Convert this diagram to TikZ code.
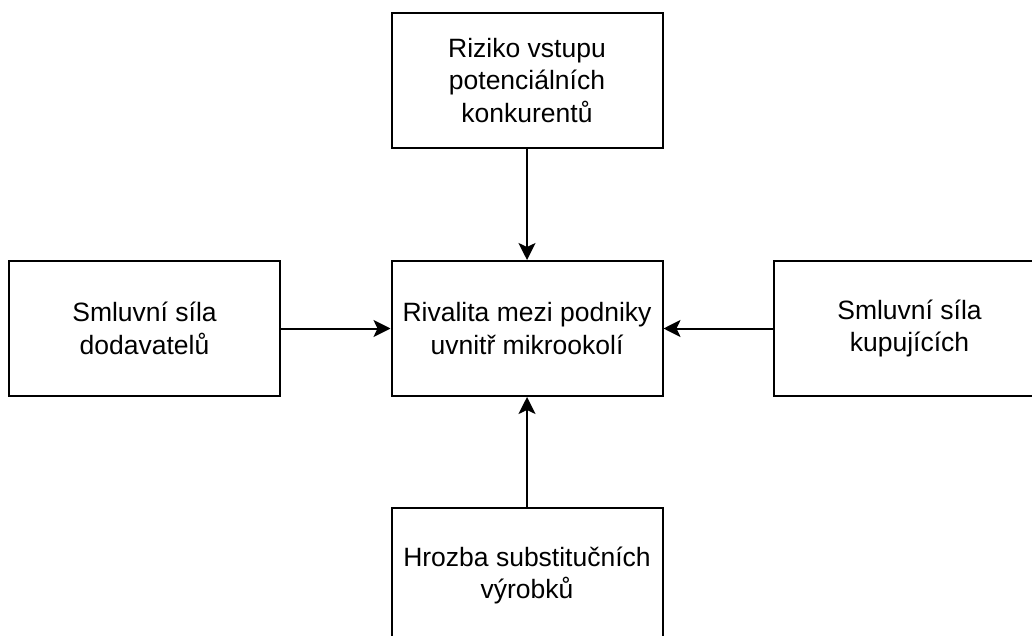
\documentclass[tikz,border=0pt]{standalone}
\usepackage{fontspec}
\setmainfont{Liberation Sans}
\usetikzlibrary{arrows.meta}
\tikzset{
	silabox/.style={draw, line width=2pt, minimum width=271pt, minimum height=135pt,
		align=center, inner sep=0pt, font=\fontsize{26.5}{32.5}\selectfont},
	sipka/.style={-{Stealth[length=17pt,width=17pt,inset=4pt]}, line width=2pt}
}
\begin{document}
\begin{tikzpicture}[x=1pt, y=-1pt]
		\useasboundingbox (0,0) rectangle (1032,636);
		\clip (0,0) rectangle (1032,636);

		\node[silabox] (rivalita) at (527,328.5) {Rivalita mezi podniky\\uvnitř mikrookolí};
		\node[silabox] (vstup) at (527,80.5) {Riziko vstupu\\potenciálních\\konkurentů};
		\node[silabox] (dodavatele) at (144.5,328.5) {Smluvní síla\\dodavatelů};
		\node[silabox] (kupujici) at (909.5,328.5) {Smluvní síla\\kupujících};
		\node[silabox] (substituty) at (527,575.5) {Hrozba substitučních\\výrobků};

		\draw[sipka] (vstup) -- (rivalita);
		\draw[sipka] (dodavatele) -- (rivalita);
		\draw[sipka] (kupujici) -- (rivalita);
		\draw[sipka] (substituty) -- (rivalita);
	\end{tikzpicture}
\end{document}
